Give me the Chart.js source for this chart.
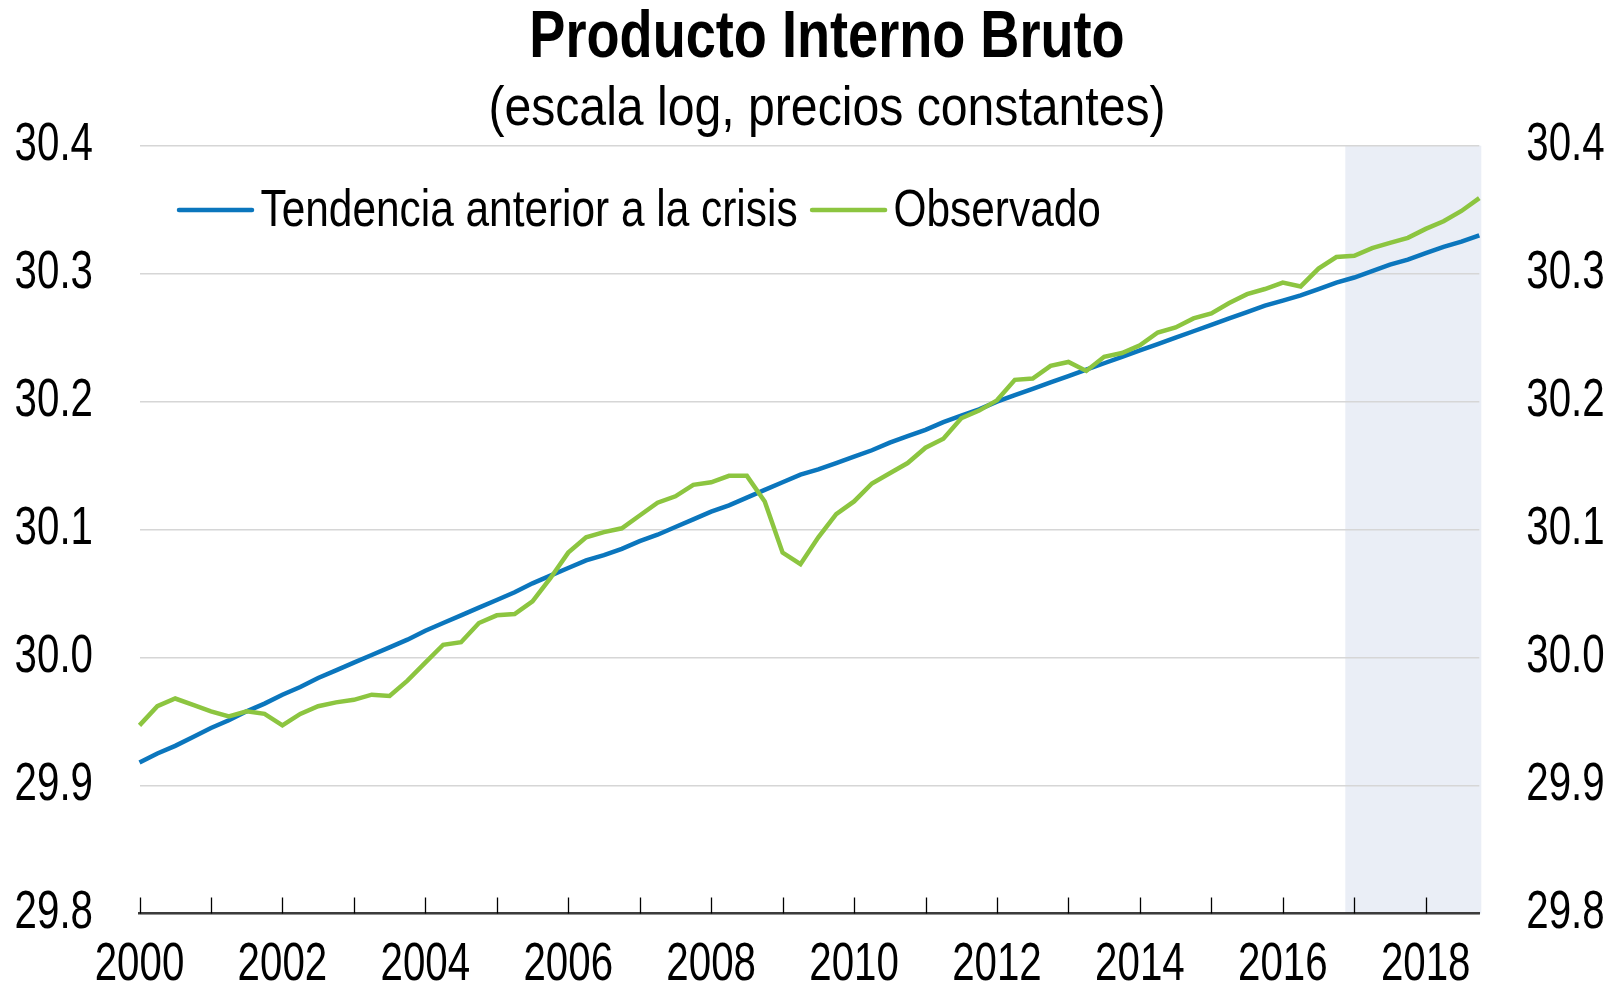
<!DOCTYPE html>
<html lang="es">
<head>
<meta charset="utf-8">
<title>Producto Interno Bruto</title>
<script src="https://cdn.jsdelivr.net/npm/chart.js@4.4.1/dist/chart.umd.min.js"></script>
<style>
html,body{margin:0;padding:0;background:#fff}
#wrap{width:1621px;height:984px}
</style>
</head>
<body>
<div id="wrap"><canvas id="gdp" width="1621" height="984"></canvas></div>
<script>
// Producto Interno Bruto, log scale, quarterly 2000T1-2018T4
// the source uses a narrow font; no narrow face is installed so text is squeezed horizontally
const FONT = "'Liberation Sans', Arial, sans-serif";

const years = [2000,2001,2002,2003,2004,2005,2006,2007,2008,2009,2010,2011,2012,2013,2014,2015,2016,2017,2018];
const quarters = years.flatMap(y => ['T1','T2','T3','T4'].map(q => y + q));
const yearLabels = ['2000','2002','2004','2006','2008','2010','2012','2014','2016','2018'];
const yTicks = [29.8, 29.9, 30.0, 30.1, 30.2, 30.3, 30.4];
const shadeFrom = ['2016T4','2017T1'];   // shaded band starts between these

const trend = [
  29.918,29.925,29.931,29.938,29.945,29.951,29.958,29.964,29.971,29.977,29.984,29.990,29.996,30.002,
  30.008,30.014,30.021,30.027,30.033,30.039,30.045,30.051,30.058,30.064,30.070,30.076,30.080,
  30.085,30.091,30.096,30.102,30.108,30.114,30.119,30.125,30.131,30.137,30.143,30.147,
  30.152,30.157,30.162,30.168,30.173,30.178,30.184,30.189,30.194,30.200,30.205,30.210,30.215,
  30.220,30.225,30.230,30.235,30.240,30.245,30.250,30.255,30.260,30.265,30.270,30.275,30.279,
  30.283,30.288,30.293,30.297,30.302,30.307,30.311,30.316,30.321,30.325,30.330
];
const observed = [
  29.947,29.962,29.968,29.963,29.958,29.954,29.958,29.956,29.947,29.956,29.962,29.965,29.967,29.971,
  29.970,29.982,29.996,30.010,30.012,30.027,30.033,30.034,30.044,30.062,30.082,30.094,30.098,
  30.101,30.111,30.121,30.126,30.135,30.137,30.142,30.142,30.122,30.082,30.073,30.094,
  30.112,30.122,30.136,30.144,30.152,30.164,30.171,30.187,30.193,30.201,30.217,30.218,30.228,
  30.231,30.224,30.235,30.238,30.244,30.254,30.258,30.265,30.269,30.277,30.284,30.288,30.293,
  30.290,30.304,30.313,30.314,30.320,30.324,30.328,30.335,30.341,30.349,30.359
];

const BLUE = '#0b76bd', GREEN = '#8cc540';

function narrow(ctx, text, x, y, align, sx){
  ctx.save(); ctx.translate(x, y); ctx.scale(sx, 1);
  ctx.textAlign = align; ctx.textBaseline = 'middle'; ctx.fillText(text, 0, 0);
  ctx.restore();
}

// light band over the last quarters
const shade = {
  id:'shade',
  beforeDraw(chart){
    const {ctx, chartArea:a, scales:{x}} = chart;
    const x0 = (x.getPixelForValue(quarters.indexOf(shadeFrom[0])) + x.getPixelForValue(quarters.indexOf(shadeFrom[1]))) / 2;
    ctx.save(); ctx.fillStyle = '#eaeef6';
    ctx.fillRect(x0, a.top, a.right + 2 - x0, a.bottom - a.top);
    ctx.restore();
  }
};

// small inside tick marks, one per year
const yearMarks = {
  id:'yearMarks',
  beforeDatasetsDraw(chart){
    const {ctx, chartArea:a, scales:{x}} = chart;
    ctx.save(); ctx.strokeStyle = '#000'; ctx.lineWidth = 1.3;
    years.forEach(y => {
      const px = Math.round(x.getPixelForValue(quarters.indexOf(y + 'T1'))) + 0.5;
      ctx.beginPath(); ctx.moveTo(px, a.bottom); ctx.lineTo(px, a.bottom - 16); ctx.stroke();
    });
    ctx.restore();
  }
};

// tick labels drawn narrow at the scales' own tick positions
const narrowLabels = {
  id:'narrowLabels',
  afterDraw(chart){
    const {ctx, chartArea:a, scales:{x, y, y2}} = chart;
    ctx.save(); ctx.fillStyle = '#000'; ctx.font = "53px " + FONT;
    y.ticks.forEach(t => narrow(ctx, t.value.toFixed(1), a.left - 46.5, y.getPixelForValue(t.value), 'right', 0.76));
    y2.ticks.forEach(t => narrow(ctx, t.value.toFixed(1), a.right + 47, y2.getPixelForValue(t.value), 'left', 0.76));
    x.ticks.forEach(t => narrow(ctx, quarters[t.value].slice(0, 4), x.getPixelForValue(t.value), 965, 'center', 0.76));
    ctx.restore();
  }
};

// title + subtitle, centred a bit right of the canvas middle like the source
const headline = {
  id:'headline',
  afterDraw(chart){
    const ctx = chart.ctx;
    ctx.save(); ctx.fillStyle = '#000';
    ctx.font = "bold 66px " + FONT; narrow(ctx, 'Producto Interno Bruto', 827, 39, 'center', 0.82);
    ctx.font = "56px " + FONT; narrow(ctx, '(escala log, precios constantes)', 827, 110, 'center', 0.86);
    ctx.restore();
  }
};

// legend inside the plot, line + text
const inlineLegend = {
  id:'inlineLegend',
  afterDraw(chart){
    const ctx = chart.ctx, sx = 0.815;
    let x = 179; const y = 210;
    ctx.save(); ctx.font = "52px " + FONT; ctx.fillStyle = '#000';
    chart.data.datasets.forEach(ds => {
      ctx.strokeStyle = ds.borderColor; ctx.lineWidth = 4.5; ctx.lineCap = 'round';
      ctx.beginPath(); ctx.moveTo(x, y); ctx.lineTo(x + 73, y); ctx.stroke();
      x += 73 + 8.5;
      narrow(ctx, ds.label, x, y + 2, 'left', sx);
      x += ctx.measureText(ds.label).width * sx + 14.5;
    });
    ctx.restore();
  }
};

const yAxis = (pos, w) => ({
  position: pos, min: 29.8, max: 30.4,
  afterBuildTicks: s => { s.ticks = yTicks.map(v => ({value: v})); },
  afterFit: s => { s.width = w; },
  ticks: {display: false},
  grid: {display: pos === 'left', color: '#d6d6d6', lineWidth: 1.5, drawTicks: false},
  border: {display: false}
});

new Chart(document.getElementById('gdp'), {
  type: 'line',
  data: {
    labels: quarters,
    datasets: [
      {label: 'Tendencia anterior a la crisis', data: trend, borderColor: BLUE, borderWidth: 4.5, pointRadius: 0, tension: 0, order: 1},
      {label: 'Observado', data: observed, borderColor: GREEN, borderWidth: 4.5, pointRadius: 0, tension: 0, order: 0}
    ]
  },
  options: {
    responsive: false, animation: false, events: [],
    layout: {padding: {top: 145.7, left: 0, right: 0, bottom: 0}},
    plugins: {legend: {display: false}, tooltip: {enabled: false}, title: {display: false}},
    scales: {
      x: {
        type: 'category', offset: false,
        afterBuildTicks: s => { s.ticks = yearLabels.map(y => ({value: quarters.indexOf(y + 'T1')})); },
        afterFit: s => { s.height = 70.5; },
        ticks: {display: false},
        grid: {display: false, drawTicks: false},
        border: {display: true, color: '#3c3c3c', width: 2.5}
      },
      y: yAxis('left', 139.5),
      y2: yAxis('right', 141.7)
    }
  },
  plugins: [shade, yearMarks, narrowLabels, headline, inlineLegend]
});
</script>
</body>
</html>
